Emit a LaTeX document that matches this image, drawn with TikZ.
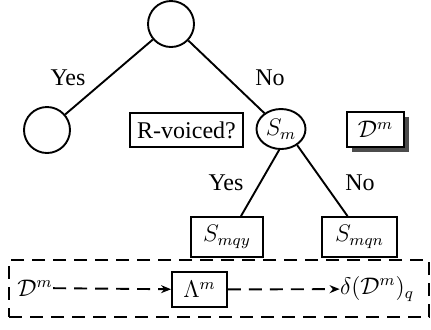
\documentclass[tikz,border=0pt]{standalone}
\usepackage{fix-cm}
\usepackage{fontspec}
\setmainfont{Liberation Serif}
\usetikzlibrary{shapes.geometric,arrows.meta,shadows}
\begin{document}
\begin{tikzpicture}[x=0.5pt,y=-0.5pt,
  font=\fontsize{12}{14}\selectfont,
  every node/.style={inner sep=0pt},
  ln/.style={line width=0.95pt},
  circ/.style={circle,draw,line width=0.95pt,minimum size=23pt},
  ell/.style={ellipse,draw,line width=0.95pt,minimum width=24.5pt,minimum height=20pt},
  bx/.style={rectangle,draw,line width=0.95pt},
  shbox/.style={bx,fill=white,drop shadow={shadow xshift=2.5pt,shadow yshift=-2.5pt,fill=black!70,opacity=1}},
  dsh/.style={line width=0.95pt,dash pattern=on 6.5pt off 4pt},
  arr/.style={dsh,-{Stealth[length=5pt,width=4pt]}}
]
\useasboundingbox (0,0) rectangle (431,329);
\node[circ] (top) at (171,24) {};
\node[circ] (left) at (47,130) {};
\node[bx,minimum width=56.5pt,minimum height=17pt] (rv) at (186.5,130) {R-voiced?};
\node[ell] (Sm) at (281,129) {$S_m$};
\node[shbox,minimum width=28.5pt,minimum height=17.5pt] (Dm) at (375.5,129.5) {$\mathcal{D}^m$};
\node[bx,minimum width=36pt,minimum height=20pt] (Smqy) at (227,237) {$S_{mqy}$};
\node[bx,minimum width=37.5pt,minimum height=20pt] (Smqn) at (359.5,237) {$S_{mqn}$};
\node[draw,dsh,minimum width=210pt,minimum height=28.5pt] (frame) at (219,288.5) {};
\node[bx,minimum width=27.5pt,minimum height=17.5pt] (Lam) at (199.5,289.5) {$\Lambda^m$};
\node (Din) at (35,288) {$\mathcal{D}^m$};
\node (dout) at (377,289) {$\delta(\mathcal{D}^m)_q$};
\node (yes1) at (68,78) {Yes};
\node (no1) at (270,78) {No};
\node (yes2) at (226,183) {Yes};
\node (no2) at (360,183) {No};
\draw[ln] (top) -- (left);
\draw[ln] (top) -- (Sm);
\draw[ln] (Sm.-95) -- ([xshift=7pt]Smqy.north);
\draw[ln] (Sm.-45) -- ([xshift=-6pt]Smqn.north);
\draw[arr] (Din) -- (Lam);
\draw[arr] (Lam) -- (dout);
\end{tikzpicture}
\end{document}
